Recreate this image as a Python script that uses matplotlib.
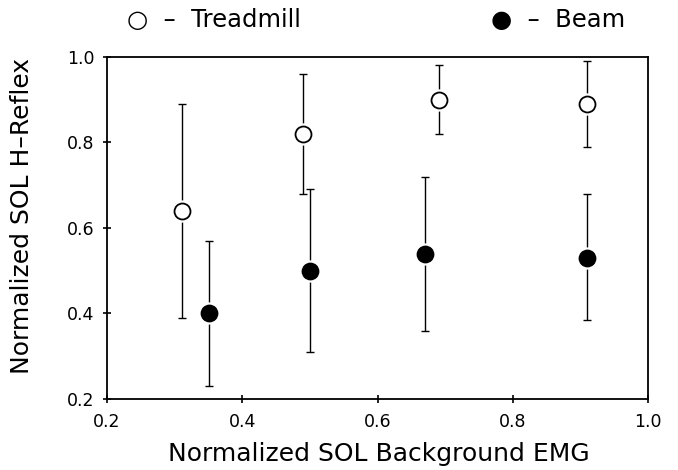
import matplotlib.pyplot as plt

# data
emg_tread = [0.31, 0.49, 0.69, 0.91]
h_tread = [0.64, 0.82, 0.90, 0.89]
hi_tread = [0.89, 0.96, 0.98, 0.99]
lo_tread = [0.39, 0.68, 0.82, 0.79]

emg_beam = [0.35, 0.50, 0.67, 0.91]
h_beam = [0.40, 0.50, 0.54, 0.53]
hi_beam = [0.57, 0.69, 0.72, 0.68]
lo_beam = [0.23, 0.31, 0.36, 0.385]

ticks = [0.2, 0.4, 0.6, 0.8, 1.0]


def draw_series(ax, x, y, hi, lo, face):
    err = [[yi - l for yi, l in zip(y, lo)], [h - yi for yi, h in zip(y, hi)]]
    ax.errorbar(x, y, yerr=err, fmt='none', ecolor='black', elinewidth=1,
                capsize=3, capthick=1, zorder=1)
    # white halo so the bar stops short of the marker
    ax.plot(x, y, 'o', ms=15, color='white', mec='white', zorder=2)
    ax.plot(x, y, 'o', ms=11.5, mfc=face, mec='black', mew=1.3, zorder=3)


fig = plt.figure(figsize=(6.78, 4.70), dpi=100)
ax = fig.add_axes([0.158, 0.151, 0.798, 0.728])

draw_series(ax, emg_tread, h_tread, hi_tread, lo_tread, 'white')
draw_series(ax, emg_beam, h_beam, hi_beam, lo_beam, 'black')

ax.set_xlim(0.2, 1.0)
ax.set_ylim(0.2, 1.0)
ax.set_xticks(ticks)
ax.set_yticks(ticks)
ax.set_xticklabels(['%.1f' % t for t in ticks])
ax.set_yticklabels(['%.1f' % t for t in ticks])
ax.tick_params(direction='inout', length=6, width=1.2, labelsize=12.5)
ax.tick_params(axis='x', pad=7)
ax.tick_params(axis='y', pad=6)
for s in ax.spines.values():
    s.set_linewidth(1.3)

ax.set_xlabel('Normalized SOL Background EMG', fontsize=18)
ax.set_ylabel('Normalized SOL H\u2013Reflex', fontsize=18)
ax.xaxis.set_label_coords(0.503, -0.125)
ax.yaxis.set_label_coords(-0.135, 0.535)

fig.text(0.187, 0.957, '\u25CB  \u2013  Treadmill', fontsize=17.5, ha='left', va='center')
fig.text(0.724, 0.957, '\u25CF  \u2013  Beam', fontsize=17.5, ha='left', va='center')

fig.savefig('out.png', dpi=100)
